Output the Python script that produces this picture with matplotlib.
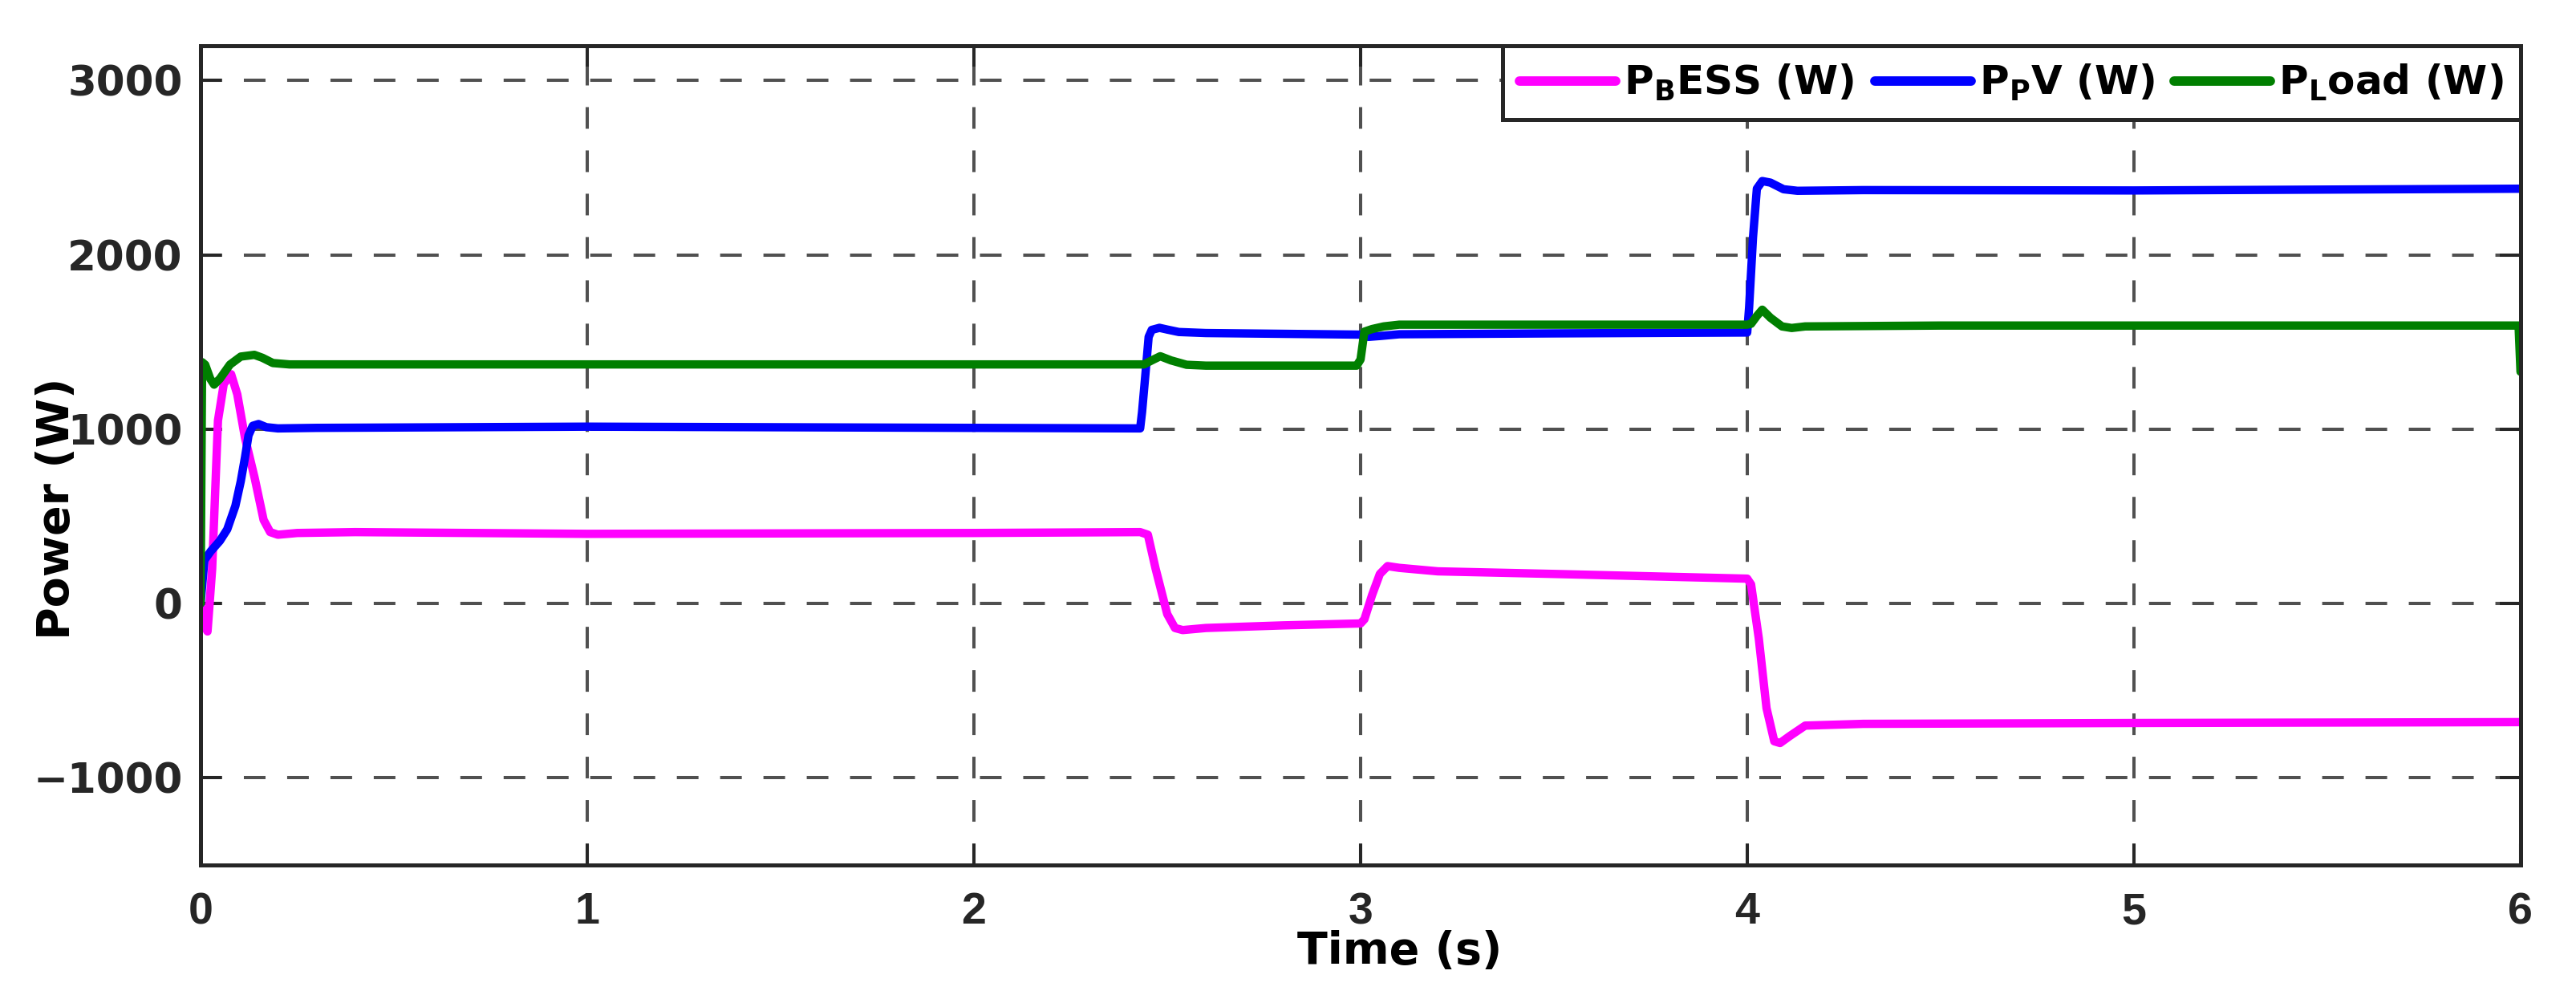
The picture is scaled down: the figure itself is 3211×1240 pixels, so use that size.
import matplotlib
matplotlib.use('Agg')
import matplotlib.pyplot as plt

plt.rcParams['mathtext.fontset'] = 'dejavusans'

# ---- data ----
t_bess = [0, 0.008, 0.018, 0.03, 0.045, 0.06, 0.079, 0.095, 0.115, 0.14, 0.163, 0.18, 0.2, 0.25, 0.4,
          1.0, 2.0, 2.43, 2.45, 2.47, 2.50, 2.52, 2.54, 2.6, 2.8, 3.0, 3.01, 3.03, 3.05, 3.07, 3.1,
          3.2, 3.5, 4.0, 4.01, 4.03, 4.05, 4.07, 4.085, 4.11, 4.15, 4.3, 5.0, 6.0]
p_bess = [0, -120, -160, 200, 1050, 1260, 1316, 1200, 950, 720, 480, 410, 395, 405, 410,
          400, 405, 410, 395, 200, -60, -140, -152, -140, -125, -114, -90, 50, 170, 215, 205,
          185, 170, 143, 110, -200, -600, -790, -800, -760, -700, -690, -685, -680]

t_pv = [0, 0.01, 0.027, 0.05, 0.069, 0.09, 0.104, 0.115, 0.124, 0.135, 0.15, 0.17, 0.2, 0.3,
        1.0, 2.0, 2.43, 2.435, 2.445, 2.452, 2.46, 2.48, 2.5, 2.53, 2.6, 3.0, 3.02, 3.05, 3.1,
        3.5, 4.0, 4.005, 4.015, 4.025, 4.039, 4.06, 4.094, 4.13, 4.3, 5.0, 6.0]
p_pv = [0, 250, 302, 360, 426, 560, 702, 840, 965, 1020, 1030, 1012, 1005, 1008,
        1015, 1008, 1005, 1100, 1350, 1530, 1570, 1582, 1572, 1558, 1552, 1543, 1530, 1535, 1545,
        1550, 1555, 1700, 2100, 2380, 2424, 2415, 2377, 2368, 2372, 2370, 2380]

t_load = [0, 0.004, 0.012, 0.025, 0.035, 0.05, 0.076, 0.104, 0.139, 0.16, 0.187, 0.23, 0.5,
          2.0, 2.44, 2.46, 2.482, 2.51, 2.55, 2.6, 2.99, 3.0, 3.01, 3.03, 3.06, 3.1, 3.3,
          4.0, 4.01, 4.025, 4.039, 4.06, 4.09, 4.115, 4.15, 4.5, 5.5, 5.995, 6.0]
p_load = [0, 1385, 1370, 1290, 1256, 1290, 1371, 1417, 1427, 1410, 1380, 1372, 1372,
          1372, 1372, 1395, 1419, 1395, 1370, 1365, 1365, 1400, 1560, 1575, 1590, 1600, 1600,
          1600, 1605, 1650, 1686, 1640, 1590, 1581, 1590, 1595, 1595, 1595, 1330]

x_ticks = [0, 1, 2, 3, 4, 5, 6]
y_ticks = [-1000, 0, 1000, 2000, 3000]
labels = [r'P$_{\mathbf{B}}$ESS (W)', r'P$_{\mathbf{P}}$V (W)', r'P$_{\mathbf{L}}$oad (W)']
colors = ['#FF00FF', '#0000FF', '#007F00']

# ---- figure ----
fig = plt.figure(figsize=(32.11, 12.4), dpi=100)
ax = fig.add_axes([0.07786, 0.1306, 0.9006, 0.8234])

for (tt, pp), lab, col in zip([(t_bess, p_bess), (t_pv, p_pv), (t_load, p_load)], labels, colors):
    ax.plot(tt, pp, color=col, lw=7.5, label=lab, solid_joinstyle='round', solid_capstyle='round')

ax.set_xlim(0, 6)
ax.set_ylim(-1500, 3200)
ax.set_xticks(x_ticks)
ax.set_yticks(y_ticks)

ax.grid(True, color='#505050', lw=2.9, ls=(0, (6.7, 6.7)))
ax.tick_params(direction='in', length=19, width=2.9, top=True, right=True, color='#262626')
ax.tick_params(axis='x', pad=24)
ax.tick_params(axis='y', pad=16)
for lbl in ax.get_xticklabels():
    lbl.set_fontfamily('Liberation Sans')
    lbl.set_fontweight('bold')
    lbl.set_fontsize(40)
    lbl.set_color('#262626')
for lbl in ax.get_yticklabels():
    lbl.set_fontfamily('DejaVu Sans')
    lbl.set_fontweight('bold')
    lbl.set_fontsize(37)
    lbl.set_color('#262626')

for s in ax.spines.values():
    s.set_linewidth(3.6)
    s.set_color('#262626')

ax.set_xlabel('Time (s)', fontsize=40, fontweight='bold', family='DejaVu Sans', va='center')
ax.xaxis.set_label_coords(0.517, -0.106)
ax.set_ylabel('Power (W)', fontsize=40, fontweight='bold', family='DejaVu Sans', va='center')
ax.yaxis.set_label_coords(-0.062, 0.435)

leg = ax.legend(loc='upper right', ncol=3,
                prop={'family': 'DejaVu Sans', 'weight': 'bold', 'size': 36},
                frameon=True, fancybox=False, edgecolor='#262626', framealpha=1,
                borderaxespad=0, handlelength=2.4, handletextpad=0.2,
                columnspacing=0.5, borderpad=0.42)
leg.get_frame().set_linewidth(3.6)
for ln in leg.get_lines():
    ln.set_linewidth(8.5)

fig.savefig('out.png', dpi=100)
